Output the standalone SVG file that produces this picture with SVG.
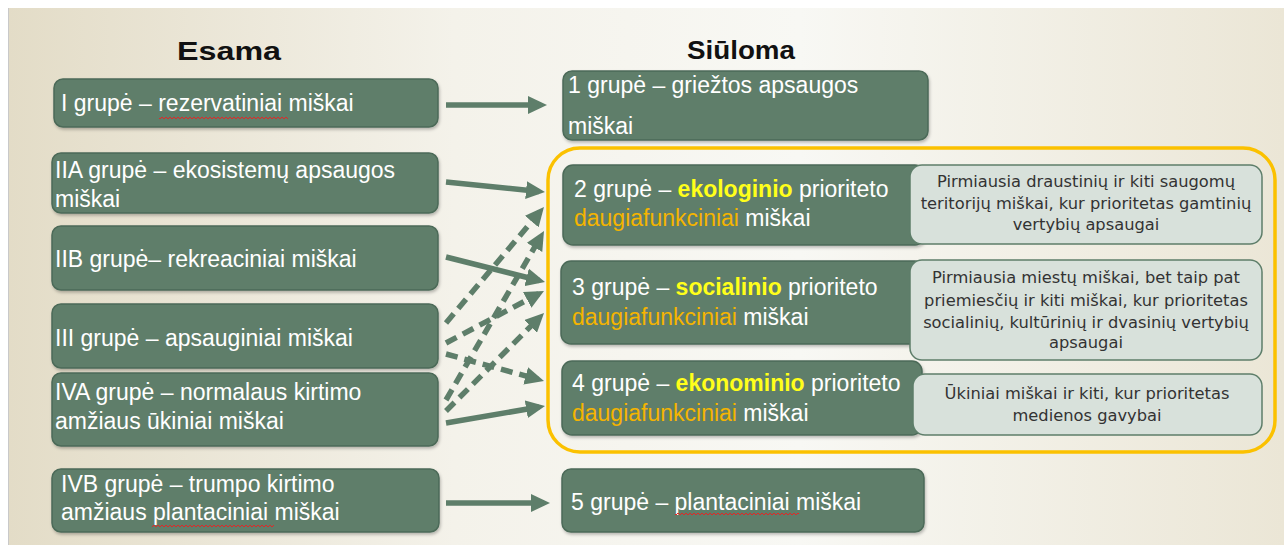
<svg xmlns="http://www.w3.org/2000/svg" width="1284" height="545" viewBox="0 0 1284 545">
<defs>
<linearGradient id="bg" x1="0" y1="0" x2="1" y2="0">
<stop offset="0" stop-color="#e3dcc7"/>
<stop offset="0.35" stop-color="#f4f2ea"/>
<stop offset="0.62" stop-color="#f8f8f4"/>
<stop offset="1" stop-color="#ebe6d6"/>
</linearGradient>
<marker id="ah" markerUnits="userSpaceOnUse" markerWidth="19" markerHeight="18" refX="13" refY="9" orient="auto">
<path d="M0,0 L19,9 L0,18 z" fill="#5e7e6a"/>
</marker>
<pattern id="wavy" patternUnits="userSpaceOnUse" width="4" height="4">
<path d="M0,3 L2,1 L4,3" fill="none" stroke="#e02828" stroke-width="1"/>
</pattern>
<filter id="sh" x="-5%" y="-10%" width="110%" height="130%">
<feDropShadow dx="1" dy="2" stdDeviation="1.5" flood-color="#000" flood-opacity="0.25"/>
</filter>
</defs>
<style>
.dark{fill:#5e7e6a;stroke:#4c6a58;stroke-width:1.5;filter:url(#sh)}
.light{fill:#d8e1db;stroke:#5e7e6a;stroke-width:1.5}
.t{font-family:"Liberation Sans",Arial,sans-serif;font-size:23px;fill:#ffffff}
.lt{font-family:"DejaVu Sans","Liberation Sans",sans-serif;font-size:16.3px;fill:#333333;text-anchor:middle}
.title{font-family:"Liberation Sans",Arial,sans-serif;font-size:25px;font-weight:bold;fill:#111111;text-anchor:middle}
.yb{fill:#ffff1a;font-weight:bold}
.or{fill:#f5b400}
.conn{fill:none;stroke:#5e7e6a;stroke-width:5.5;marker-end:url(#ah)}
.dash{stroke-dasharray:12 7}
</style>
<rect x="0" y="0" width="1284" height="545" fill="#ffffff"/>
<rect x="8" y="8" width="1276" height="537" fill="url(#bg)"/>
<line x1="8.5" y1="8" x2="8.5" y2="545" stroke="#c9c9c9" stroke-width="1"/>

<text class="title" x="229" y="60" textLength="104" lengthAdjust="spacingAndGlyphs">Esama</text>
<text class="title" x="741" y="59" textLength="108" lengthAdjust="spacingAndGlyphs">Siūloma</text>

<g id="e1">
<rect class="dark" x="54" y="79" width="384" height="48" rx="9"/>
<text class="t" x="61" y="111">I grupė – rezervatiniai miškai</text>
<rect x="159" y="116" width="129" height="4" fill="url(#wavy)"/>
</g>
<g id="e2a">
<rect class="dark" x="52" y="153" width="386" height="60" rx="9"/>
<text class="t" x="55" y="178">IIA grupė – ekosistemų apsaugos</text>
<text class="t" x="55" y="207">miškai</text>
</g>
<g id="e2b">
<rect class="dark" x="52" y="226" width="386" height="64" rx="9"/>
<text class="t" x="55" y="267">IIB grupė– rekreaciniai miškai</text>
</g>
<g id="e3">
<rect class="dark" x="52" y="304" width="386" height="64" rx="9"/>
<text class="t" x="55" y="346">III grupė – apsauginiai miškai</text>
</g>
<g id="e4a">
<rect class="dark" x="52" y="373" width="386" height="73" rx="9"/>
<text class="t" x="55" y="400">IVA grupė – normalaus kirtimo</text>
<text class="t" x="55" y="429">amžiaus ūkiniai miškai</text>
</g>
<g id="e4b">
<rect class="dark" x="52" y="469" width="387" height="63" rx="9"/>
<text class="t" x="61" y="492">IVB grupė – trumpo kirtimo</text>
<text class="t" x="61" y="520">amžiaus plantaciniai miškai</text>
<rect x="152" y="524" width="122" height="4" fill="url(#wavy)"/>
</g>

<g id="s1">
<rect class="dark" x="563" y="71" width="365" height="69" rx="9"/>
<text class="t" x="568" y="93">1 grupė – griežtos apsaugos</text>
<text class="t" x="568" y="134">miškai</text>
</g>

<g id="group-box">
<rect x="548" y="148" width="727" height="304" rx="32" fill="none" stroke="#fbc100" stroke-width="3.5"/>
</g>

<g id="s2">
<rect class="dark" x="563" y="165" width="362" height="80" rx="10"/>
<text class="t" x="574" y="197">2 grupė – <tspan class="yb">ekologinio</tspan> prioriteto</text>
<text class="t" x="574" y="226"><tspan class="or">daugiafunkciniai</tspan> miškai</text>
</g>
<g id="s3">
<rect class="dark" x="561" y="261" width="364" height="83" rx="10"/>
<text class="t" x="572" y="295">3 grupė – <tspan class="yb">socialinio</tspan> prioriteto</text>
<text class="t" x="572" y="325"><tspan class="or">daugiafunkciniai</tspan> miškai</text>
</g>
<g id="s4">
<rect class="dark" x="562" y="361" width="360" height="74" rx="10"/>
<text class="t" x="572" y="391">4 grupė – <tspan class="yb">ekonominio</tspan> prioriteto</text>
<text class="t" x="572" y="421"><tspan class="or">daugiafunkciniai</tspan> miškai</text>
</g>

<g id="n2">
<rect class="light" x="910" y="165" width="352" height="79" rx="12"/>
<text class="lt" x="1086" y="187">Pirmiausia draustinių ir kiti saugomų</text>
<text class="lt" x="1086" y="209">teritorijų miškai, kur prioritetas gamtinių</text>
<text class="lt" x="1086" y="230">vertybių apsaugai</text>
</g>
<g id="n3">
<rect class="light" x="910" y="260" width="352" height="100" rx="12"/>
<text class="lt" x="1086" y="283">Pirmiausia miestų miškai, bet taip pat</text>
<text class="lt" x="1086" y="306">priemiesčių ir kiti miškai, kur prioritetas</text>
<text class="lt" x="1086" y="328">socialinių, kultūrinių ir dvasinių vertybių</text>
<text class="lt" x="1086" y="348">apsaugai</text>
</g>
<g id="n4">
<rect class="light" x="913" y="374" width="349" height="61" rx="12"/>
<text class="lt" x="1087" y="399">Ūkiniai miškai ir kiti, kur prioritetas</text>
<text class="lt" x="1087" y="421">medienos gavybai</text>
</g>

<g id="s5">
<rect class="dark" x="562" y="469" width="362" height="63" rx="9"/>
<text class="t" x="571" y="510">5 grupė – plantaciniai miškai</text>
<rect x="675" y="513" width="124" height="4" fill="url(#wavy)"/>
</g>

<g id="connectors">
<line class="conn" x1="446" y1="105" x2="541" y2="105"/>
<line class="conn" x1="446" y1="182" x2="539" y2="191.4"/>
<line class="conn" x1="446" y1="257" x2="539.2" y2="280.5"/>
<line class="conn" x1="446" y1="423" x2="539.1" y2="407"/>
<line class="conn" x1="446" y1="503" x2="544" y2="503"/>
<line class="conn dash" x1="446" y1="323" x2="540.1" y2="211.6"/>
<line class="conn dash" x1="446" y1="343" x2="538.7" y2="293.8"/>
<line class="conn dash" x1="446" y1="354" x2="538.2" y2="379.4"/>
<line class="conn dash" x1="446" y1="400" x2="541" y2="236.2"/>
<line class="conn dash" x1="446" y1="411" x2="539.8" y2="317.2"/>
</g>
</svg>
